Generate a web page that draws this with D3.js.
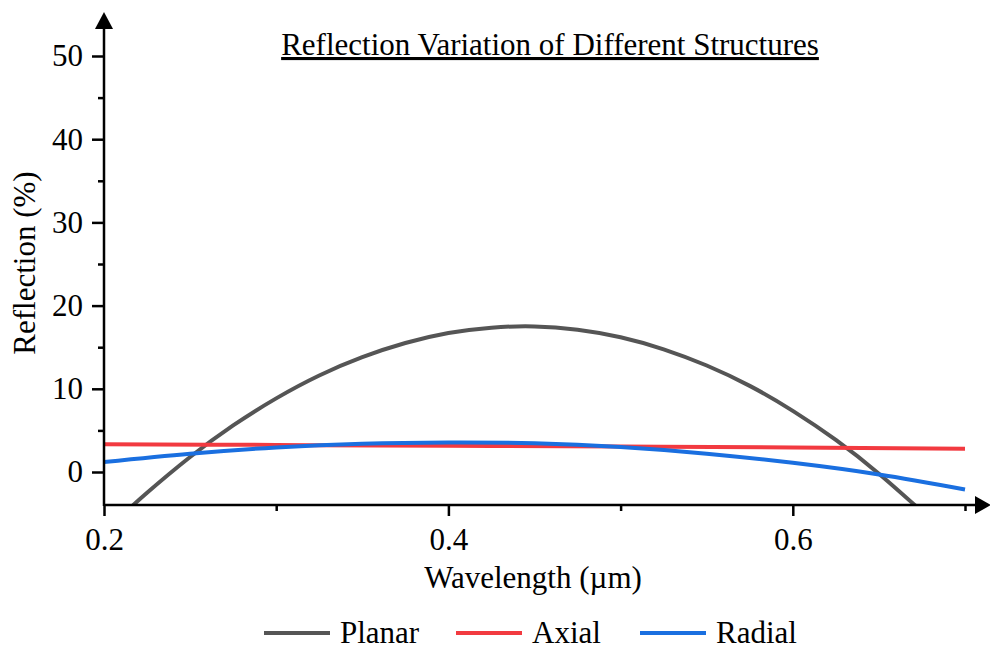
<!DOCTYPE html>
<html>
<head>
<meta charset="utf-8">
<script src="https://cdn.jsdelivr.net/npm/d3@7"></script>
<style>
  body { margin: 0; background: #fff; }
  svg text { font-family: "Liberation Serif", "Times New Roman", serif; fill: #000; }
</style>
</head>
<body>
<svg id="chart" width="990" height="650"></svg>
<script>
// Wavelength samples (µm) and reflection (%) for each structure
const planarX = [0.21, 0.225, 0.25, 0.275, 0.3, 0.325, 0.35, 0.375, 0.4, 0.425, 0.45, 0.475, 0.5, 0.525, 0.55, 0.575, 0.6, 0.625, 0.65, 0.675];
const planarY = [-5.3, -2.5, 1.8, 5.6, 8.85, 11.6, 13.8, 15.5, 16.7, 17.35, 17.5, 17.1, 16.2, 14.75, 12.8, 10.35, 7.35, 3.85, -0.2, -4.75];
const axialX = [0.2, 0.3, 0.4, 0.5, 0.6, 0.7];
const axialY = [3.35, 3.25, 3.15, 3.05, 2.95, 2.8];
const radialX = [0.2, 0.25, 0.3, 0.35, 0.4, 0.45, 0.5, 0.55, 0.6, 0.65, 0.7];
const radialY = [1.2, 2.2, 2.95, 3.4, 3.55, 3.45, 3.0, 2.2, 1.1, -0.3, -2.1];

const seriesNames = ["Planar", "Axial", "Radial"];
const seriesColors = ["#555555", "#f23a40", "#1a6fe0"];
const xTicks = [0.2, 0.4, 0.6];
const xMinorTicks = [0.3, 0.5, 0.7];
const yTicks = [0, 10, 20, 30, 40, 50];
const yMinorTicks = [5, 15, 25, 35, 45];

const FONT = "Liberation Serif, Times New Roman, serif";
const FS = "31px";
const svg = d3.select("#chart");
const left = 104, right = 965, bottom = 505;

const x = d3.scaleLinear().domain([0.2, 0.7]).range([left, right]);
const y = d3.scaleLinear().domain([0, 50]).range([472, 56]);

// Clip lines to the plotting area
svg.append("defs").append("clipPath").attr("id", "plot")
  .append("rect").attr("x", left).attr("y", 0).attr("width", right - left + 2).attr("height", bottom);

const series = [
  { name: seriesNames[0], color: seriesColors[0], xs: planarX, ys: planarY },
  { name: seriesNames[1], color: seriesColors[1], xs: axialX, ys: axialY },
  { name: seriesNames[2], color: seriesColors[2], xs: radialX, ys: radialY }
];

const g = svg.append("g").attr("clip-path", "url(#plot)");
series.forEach(s => {
  const pts = s.xs.map((v, i) => [v, s.ys[i]]);
  g.append("path")
    .datum(pts)
    .attr("fill", "none")
    .attr("stroke", s.color)
    .attr("stroke-width", 4)
    .attr("d", d3.line().x(d => x(d[0])).y(d => y(d[1])).curve(d3.curveNatural));
});

// X axis
const xAxis = svg.append("g").attr("transform", `translate(0,${bottom})`);
xAxis.call(d3.axisBottom(x).tickValues(xTicks).tickSize(11).tickPadding(12).tickFormat(d3.format(".1f")));
xAxis.append("g").call(d3.axisBottom(x).tickValues(xMinorTicks).tickSize(6).tickFormat(""))
  .select(".domain").remove();
xAxis.selectAll(".domain").attr("d", `M${left},0H976`);
xAxis.selectAll("line, path").attr("stroke", "#000").attr("stroke-width", 2.5);
xAxis.selectAll("text").style("font-size", FS).style("font-family", FONT);
svg.append("path").attr("d", `M975,${bottom - 9}L991,${bottom}L975,${bottom + 9}Z`).attr("fill", "#000");

// Y axis
const yAxis = svg.append("g").attr("transform", `translate(${left},0)`);
yAxis.call(d3.axisLeft(y).tickValues(yTicks).tickSize(12).tickPadding(9));
yAxis.append("g").call(d3.axisLeft(y).tickValues(yMinorTicks).tickSize(6).tickFormat(""))
  .select(".domain").remove();
yAxis.selectAll(".domain").attr("d", `M0,${bottom + 1}V28`);
yAxis.selectAll("line, path").attr("stroke", "#000").attr("stroke-width", 2.5);
yAxis.selectAll("text").style("font-size", FS).style("font-family", FONT);
svg.append("path").attr("d", `M${left - 9},29L${left},12L${left + 9},29Z`).attr("fill", "#000");

// Titles
svg.append("text").attr("x", 550).attr("y", 55).attr("text-anchor", "middle")
  .style("font-size", FS).style("font-family", FONT).style("text-decoration", "underline")
  .text("Reflection Variation of Different Structures");
svg.append("text").attr("x", 533).attr("y", 588).attr("text-anchor", "middle")
  .style("font-size", FS).style("font-family", FONT).text("Wavelength (µm)");
svg.append("text").attr("transform", "translate(35,263) rotate(-90)").attr("text-anchor", "middle")
  .style("font-size", FS).style("font-family", FONT).text("Reflection (%)");

// Legend
const legendX = [264, 456, 640];
series.forEach((s, i) => {
  svg.append("line").attr("x1", legendX[i]).attr("x2", legendX[i] + 66)
    .attr("y1", 633).attr("y2", 633).attr("stroke", s.color).attr("stroke-width", 4);
  svg.append("text").attr("x", legendX[i] + 76).attr("y", 643)
    .style("font-size", FS).style("font-family", FONT).text(s.name);
});
</script>
</body>
</html>
